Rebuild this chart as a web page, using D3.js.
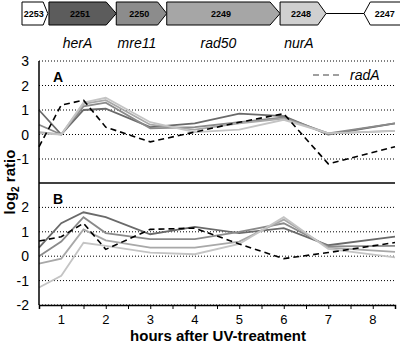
<!DOCTYPE html>
<html>
<head>
<meta charset="utf-8">
<script src="https://cdn.jsdelivr.net/npm/d3@7"></script>
<style>
  body { margin: 0; background: #fff; }
  svg { display: block; font-family: Arial, "Liberation Sans", sans-serif; }
</style>
</head>
<body>
<div id="graph"></div>
<script>
// time points (hours after UV)
const hours = [0.5, 1, 1.5, 2, 3, 4, 5, 6, 7, 8.5];
const xTicks = [1, 2, 3, 4, 5, 6, 7, 8];
const yTicksA = [3, 2, 1, 0, -1];
const yTicksB = [2, 1, 0, -1, -2];

// panel A, log2 ratio
const A_herA  = [1.0, 0.0, 1.0, 1.05, 0.3, 0.45, 0.85, 0.75, 0.0, 0.45];
const A_mre11 = [0.4, 0.0, 1.15, 1.3, 0.25, 0.3, 0.5, 0.7, 0.05, 0.45];
const A_rad50 = [0.1, 0.0, 1.25, 1.4, 0.4, 0.2, 0.45, 0.65, 0.05, 0.15];
const A_nurA  = [0.05, 0.0, 1.3, 1.5, 0.5, 0.1, 0.2, 0.6, 0.05, 0.15];
const A_radA  = [-0.5, 1.2, 1.4, 0.3, -0.3, 0.1, 0.5, 0.85, -1.2, -0.5];

// panel B
const B_herA  = [0.35, 1.35, 1.8, 1.6, 0.9, 1.2, 0.95, 1.15, 0.45, 0.8];
const B_mre11 = [0.0, 0.6, 1.6, 0.95, 0.7, 0.7, 1.0, 1.35, 0.4, 0.42];
const B_rad50 = [-0.3, -0.1, 1.1, 0.65, 0.35, 0.35, 0.6, 1.5, 0.35, 0.18];
const B_nurA  = [-1.28, -0.8, 0.55, 0.42, 0.15, 0.08, 0.5, 1.6, 0.3, -0.05];
const B_radA  = [0.62, 0.8, 1.35, 0.28, 1.1, 1.15, 0.5, -0.1, 0.15, 0.56];

// gene map (kb along the locus)
const genes = [
  {id: "2253", start: 0, end: 1.15, dir: 1, fill: "#fff"},
  {id: "2251", start: 1.2, end: 4.2, dir: 1, fill: "#5c5c5c"},
  {id: "2250", start: 4.2, end: 6.45, dir: 1, fill: "#8c8c8c"},
  {id: "2249", start: 6.45, end: 11.5, dir: 1, fill: "#a6a6a6"},
  {id: "2248", start: 11.5, end: 13.55, dir: 1, fill: "#d0d0d0"},
  {id: "2247", start: 15.24, end: 16.8, dir: -1, fill: "#fff"}
];
const geneNames = ["herA", "mre11", "rad50", "nurA"];
const lineColors = ["#6a6a6a", "#8a8a8a", "#a8a8a8", "#c4c4c4"];

const W = 400, H = 348;
const svg = d3.select("#graph").append("svg").attr("width", W).attr("height", H);

// ---- gene diagram
const gx = d3.scaleLinear().domain([0, 16.8]).range([22, 399]);
const gTop = 2, gBot = 25, gMid = (gTop + gBot) / 2;
const tipOf = g => Math.min(10, (gx(g.end) - gx(g.start)) * 0.18);

svg.append("line")
    .attr("x1", gx(13.55)).attr("x2", gx(15.24))
    .attr("y1", gMid).attr("y2", gMid)
    .attr("stroke", "#000").attr("stroke-width", 1);

genes.forEach(g => {
  const x0 = gx(g.start), x1 = gx(g.end), tip = tipOf(g);
  let pts;
  if (g.dir > 0) {
    pts = [[x0, gTop], [x1 - tip, gTop], [x1, gMid], [x1 - tip, gBot], [x0, gBot]];
  } else {
    pts = [[x0 + tip, gTop], [x1 + 2, gTop], [x1 + 2, gBot], [x0 + tip, gBot], [x0, gMid]];
  }
  svg.append("path")
      .attr("d", d3.line()(pts) + "Z")
      .attr("fill", g.fill).attr("stroke", "#000").attr("stroke-width", 1);
  svg.append("text")
      .attr("x", g.dir > 0 ? (x0 + x1 - tip / 2) / 2 : (x0 + tip + x1) / 2)
      .attr("y", gMid + 3.5)
      .attr("text-anchor", "middle")
      .attr("font-size", 9).attr("font-weight", "bold")
      .text(g.id);
});

svg.selectAll(".gname")
  .data(geneNames)
  .join("text")
    .attr("class", "gname")
    .attr("x", (d, i) => { const g = genes[i + 1]; return (gx(g.start) + gx(g.end) - tipOf(g)) / 2; })
    .attr("y", 48)
    .attr("text-anchor", "middle")
    .attr("font-size", 14).attr("font-style", "italic")
    .text(d => d);

// ---- line panels
const x = d3.scaleLinear().domain([0.5, 8.5]).range([39, 395]);
const yA = d3.scaleLinear().domain([-2, 3]).range([183.5, 61]);
const yB = d3.scaleLinear().domain([-2, 3]).range([305, 183]);

function panel(y, ticks, series, dashed, label) {
  const g = svg.append("g");
  g.selectAll(".grid")
    .data(ticks)
    .join("line")
      .attr("x1", x(0.5)).attr("x2", x(8.5))
      .attr("y1", d => y(d)).attr("y2", d => y(d))
      .attr("stroke", "#000").attr("stroke-width", 1)
      .attr("stroke-dasharray", "1,2");
  g.selectAll(".ylab")
    .data(ticks)
    .join("text")
      .attr("x", 29).attr("y", d => y(d) + 5)
      .attr("text-anchor", "end")
      .attr("font-size", 14)
      .text(d => d);

  const line = d3.line().x((d, i) => x(hours[i])).y(d => y(d));
  series.forEach((s, i) => {
    g.append("path")
        .attr("d", line(s))
        .attr("fill", "none")
        .attr("stroke", lineColors[i])
        .attr("stroke-width", 1.8);
  });
  g.append("path")
      .attr("d", line(dashed))
      .attr("fill", "none")
      .attr("stroke", "#000")
      .attr("stroke-width", 1.6)
      .attr("stroke-dasharray", "6,4");

  g.append("text")
      .attr("x", 53).attr("y", y(3) + 21)
      .attr("font-size", 14).attr("font-weight", "bold")
      .text(label);
}

panel(yA, yTicksA, [A_herA, A_mre11, A_rad50, A_nurA], A_radA, "A");
panel(yB, yTicksB, [B_herA, B_mre11, B_rad50, B_nurA], B_radA, "B");

// separator between panels
svg.append("line")
    .attr("x1", x(0.5)).attr("x2", x(8.5))
    .attr("y1", yB(3)).attr("y2", yB(3))
    .attr("stroke", "#000").attr("stroke-width", 1.5);

// left axis
svg.append("line")
    .attr("x1", x(0.5)).attr("x2", x(0.5))
    .attr("y1", yA(3)).attr("y2", yB(-2))
    .attr("stroke", "#000").attr("stroke-width", 1.5);

// bottom axis: minor ticks every half hour, labels on whole hours
const ax = svg.append("g")
    .attr("transform", `translate(0,${yB(-2)})`)
    .call(d3.axisBottom(x).tickValues(d3.range(0.5, 8.51, 0.5)).tickSize(4).tickFormat(""));
ax.select(".domain").attr("stroke-width", 1.5);
ax.selectAll("text").remove();

svg.selectAll(".xlab")
  .data(xTicks)
  .join("text")
    .attr("class", "xlab")
    .attr("x", d => x(d)).attr("y", 324)
    .attr("text-anchor", "middle")
    .attr("font-size", 13)
    .text(d => d);

svg.append("text")
    .attr("x", 218).attr("y", 341)
    .attr("text-anchor", "middle")
    .attr("font-size", 15).attr("font-weight", "bold")
    .text("hours after UV-treatment");

// y title
const yt = svg.append("text")
    .attr("transform", "translate(15,182) rotate(-90)")
    .attr("text-anchor", "middle")
    .attr("font-size", 15).attr("font-weight", "bold");
yt.append("tspan").text("log");
yt.append("tspan").attr("font-size", 10).attr("dy", 4).text("2");
yt.append("tspan").attr("dy", -4).text(" ratio");

// legend
svg.append("line")
    .attr("x1", 313).attr("x2", 343).attr("y1", 75).attr("y2", 75)
    .attr("stroke", "#808080").attr("stroke-width", 1.5)
    .attr("stroke-dasharray", "6,4");
svg.append("text")
    .attr("x", 350).attr("y", 80)
    .attr("font-size", 14).attr("font-style", "italic")
    .text("radA");
</script>
</body>
</html>
